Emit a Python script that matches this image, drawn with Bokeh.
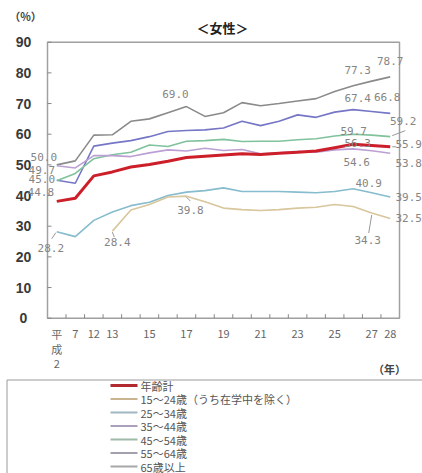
from bokeh.plotting import figure
from bokeh.models import Range1d
from bokeh.core.properties import value
from bokeh.embed import file_html
from bokeh.resources import INLINE

NAN = float("nan")

# ---- data ----
years = ["平成2", "7", "12", "13", "14", "15", "16", "17", "18", "19",
         "20", "21", "22", "23", "24", "25", "26", "27", "28"]
shown_labels = ["平", "7", "12", "13", "", "15", "", "17", "", "19",
                "", "21", "", "23", "", "25", "", "27", "28"]
first_label_extra = ["成", "2"]

total = [38.1, 39.1, 46.4, 47.7, 49.3, 50.1, 51.2, 52.4, 52.8, 53.2,
         53.6, 53.4, 53.8, 54.1, 54.5, 55.6, 56.7, 56.3, 55.9]
age15_24 = [NAN, NAN, NAN, 28.4, 35.3, 37.1, 39.5, 39.8, 38.0, 35.9,
            35.4, 35.1, 35.4, 35.9, 36.2, 37.1, 36.4, 34.3, 32.5]
age25_34 = [28.2, 26.6, 31.9, 34.6, 36.7, 37.8, 40.0, 41.1, 41.6, 42.5,
            41.3, 41.3, 41.3, 41.1, 40.9, 41.3, 42.2, 40.9, 39.5]
age35_44 = [49.7, 49.0, 53.0, 53.0, 52.7, 53.9, 54.9, 54.5, 55.4, 54.7,
            55.0, 53.6, 53.9, 54.4, 54.1, 54.9, 55.2, 54.6, 53.8]
age45_54 = [44.8, 47.2, 52.0, 53.3, 54.1, 56.5, 56.0, 57.7, 57.9, 58.3,
            57.6, 57.7, 57.7, 58.2, 58.5, 59.4, 60.0, 59.7, 59.2]
age55_64 = [45.0, 44.0, 56.1, 57.1, 57.9, 59.2, 60.9, 61.2, 61.4, 62.0,
            64.2, 62.8, 64.2, 66.3, 65.5, 67.2, 68.0, 67.4, 66.8]
age65 = [50.0, 51.3, 59.7, 59.8, 64.2, 65.0, 67.0, 69.0, 65.8, 67.0,
         70.3, 69.3, 70.0, 70.8, 71.6, 73.9, 75.8, 77.3, 78.7]

series_names = ["年齢計", "15～24歳（うち在学中を除く）", "25～34歳", "35～44歳",
                "45～54歳", "55～64歳", "65歳以上"]
y_ticks = [0, 10, 20, 30, 40, 50, 60, 70, 80, 90]
title_text = "＜女性＞"
y_unit = "（%）"
x_unit = "（年）"

N = len(years)
xs = list(range(N))
YMAX = y_ticks[-1]

# ---- layout geometry (pixels in the 422x473 canvas) ----
W, H = 422, 473
FL, FR, FT, FB = 47.0, 399.0, 41.7, 317.7   # plot box edges
sx = (FR - FL) / N          # px per category
sy = (FB - FT) / YMAX       # px per percent
X0 = -0.5 - FL / sx
X1 = -0.5 + (W - FL) / sx
Y1 = YMAX + FT / sy
Y0 = -(H - FB) / sy


def X(px):
    return X0 + px / sx


def Y(py):
    return Y1 - py / sy


# ---- styles ----
line_colors = {"total": "#cc1f2a", "a15": "#d8c69c", "a25": "#86bccd",
               "a35": "#bc9fd3", "a45": "#7fc29c", "a55": "#7676c6", "a65": "#8a8a8a"}
legend_colors = ["#b02a30", "#c9b48f", "#9fb7c1", "#aaa0bb", "#9fbaa8", "#a2a2ac", "#a8a8a8"]
JP = "Noto Sans CJK JP"
MONO = "DejaVu Sans Mono"
BOX = "#a0a0a0"

p = figure(width=W, height=H, x_range=Range1d(X0, X1), y_range=Range1d(Y0, Y1),
           x_axis_type=None, y_axis_type=None,
           output_backend="svg", toolbar_location=None, min_border=0,
           min_border_left=0, min_border_right=0, min_border_top=0, min_border_bottom=0)
p.background_fill_color = "white"
p.border_fill_color = "white"
p.outline_line_color = None
p.grid.visible = False

# plot box
p.quad(left=[-0.5], right=[N - 0.5], bottom=[0], top=[YMAX], fill_color=None,
       line_color=BOX, line_width=1.5)

# y ticks (inside) and labels
p.segment(x0=[-0.5] * len(y_ticks), y0=y_ticks, x1=[-0.5 + 4 / sx] * len(y_ticks), y1=y_ticks,
          line_color="#888888", line_width=1)
p.text(x=[X(23)] * len(y_ticks), y=y_ticks, text=[str(t) for t in y_ticks],
       text_font=value("Liberation Sans"), text_font_style="bold", text_font_size="14px",
       text_color="#3a3a3a", text_align="center", text_baseline="middle")

# x ticks at category boundaries (inside) and labels
bounds = [i + 0.5 for i in range(N - 1)]
p.segment(x0=bounds, y0=[0] * len(bounds), x1=bounds, y1=[4 / sy] * len(bounds),
          line_color="#888888", line_width=1)
p.text(x=xs, y=[Y(333)] * N, text=shown_labels, text_font=value(JP), text_font_size="11px",
       text_color="#666666", text_align="center", text_baseline="middle")
p.text(x=[0, 0], y=[Y(348), Y(363)], text=first_label_extra, text_font=value(JP),
       text_font_size="11px", text_color="#666666", text_align="center", text_baseline="middle")

# lines
p.line(xs, age65, line_color=line_colors["a65"], line_width=1.6)
p.line(xs, age55_64, line_color=line_colors["a55"], line_width=1.6)
p.line(xs, age45_54, line_color=line_colors["a45"], line_width=1.6)
p.line(xs, age35_44, line_color=line_colors["a35"], line_width=1.6)
p.line(xs, age25_34, line_color=line_colors["a25"], line_width=1.6)
p.line(xs, age15_24, line_color=line_colors["a15"], line_width=1.6)
p.line(xs, total, line_color=line_colors["total"], line_width=3)

# value labels: (series, index, x offset px, y offset px upward)
annots = [
    (age65, 0, -13, 8), (age35_44, 0, -15, -4), (age55_64, 0, -15, 1), (age45_54, 0, -16, -11),
    (age25_34, 0, -6, -16), (age15_24, 3, 5, -11), (age15_24, 7, 4, -14), (age65, 7, -11, 13),
    (age65, 17, -14, 11), (age65, 18, 0, 16), (age55_64, 17, -14, 14), (age55_64, 18, -3, 16),
    (age45_54, 17, -18, 4), (age45_54, 18, 13, 16), (total, 17, -14, 3), (total, 18, 18.5, 3),
    (age35_44, 17, -15, -11), (age35_44, 18, 18.5, -10), (age25_34, 17, -3, 10), (age25_34, 18, 18.5, 0),
    (age15_24, 17, -4, -27), (age15_24, 18, 18.5, 1),
]
p.text(x=[i + dx / sx for s, i, dx, dy in annots],
       y=[s[i] + dy / sy for s, i, dx, dy in annots],
       text=[f"{s[i]:.1f}" for s, i, dx, dy in annots],
       text_font=value(MONO), text_font_size="11px", text_color="#858585",
       text_align="center", text_baseline="middle")

# leader lines (pixel offsets from the data point)
leaders = [
    (age15_24, 17, 0, -2, -3, -20), (total, 18, 2, 0, 6, 0), (age45_54, 18, 2, 1, 15, 6),
    (age25_34, 0, -1, -1, -5, -7), (age15_24, 3, 0, -1, 2, -6), (age15_24, 7, 0, -1, 4, -5),
]
p.segment(x0=[i + a / sx for s, i, a, b, c, d in leaders],
          y0=[s[i] + b / sy for s, i, a, b, c, d in leaders],
          x1=[i + c / sx for s, i, a, b, c, d in leaders],
          y1=[s[i] + d / sy for s, i, a, b, c, d in leaders],
          line_color="#999999", line_width=1)

# title / unit labels
p.text(x=[X(222)], y=[Y(27)], text=[title_text], text_font=value(JP), text_font_style="bold",
       text_font_size="13px", text_color="#222222", text_align="center", text_baseline="middle")
p.text(x=[X(25), X(389)], y=[Y(15), Y(368)], text=[y_unit, x_unit], text_font=value(JP),
       text_font_style="bold", text_font_size="11px", text_color="#444444",
       text_align="center", text_baseline="middle")

# legend box and entries
p.line([X(6.5), X(6.5), X(W)], [Y(H), Y(379.5), Y(379.5)], line_color="#9a9a9a", line_width=1)
row_y = [Y(385 + 13.5 * k) for k in range(len(series_names))]
p.segment(x0=[X(110)] * len(row_y), y0=row_y, x1=[X(137)] * len(row_y), y1=row_y,
          line_color=legend_colors, line_width=[3] + [2] * (len(row_y) - 1))
p.text(x=[X(140)] * len(row_y), y=row_y, text=series_names, text_font=value(JP),
       text_font_size="11px", text_color="#555555", text_baseline="middle")

open("out.html", "w").write(file_html(p, INLINE))
